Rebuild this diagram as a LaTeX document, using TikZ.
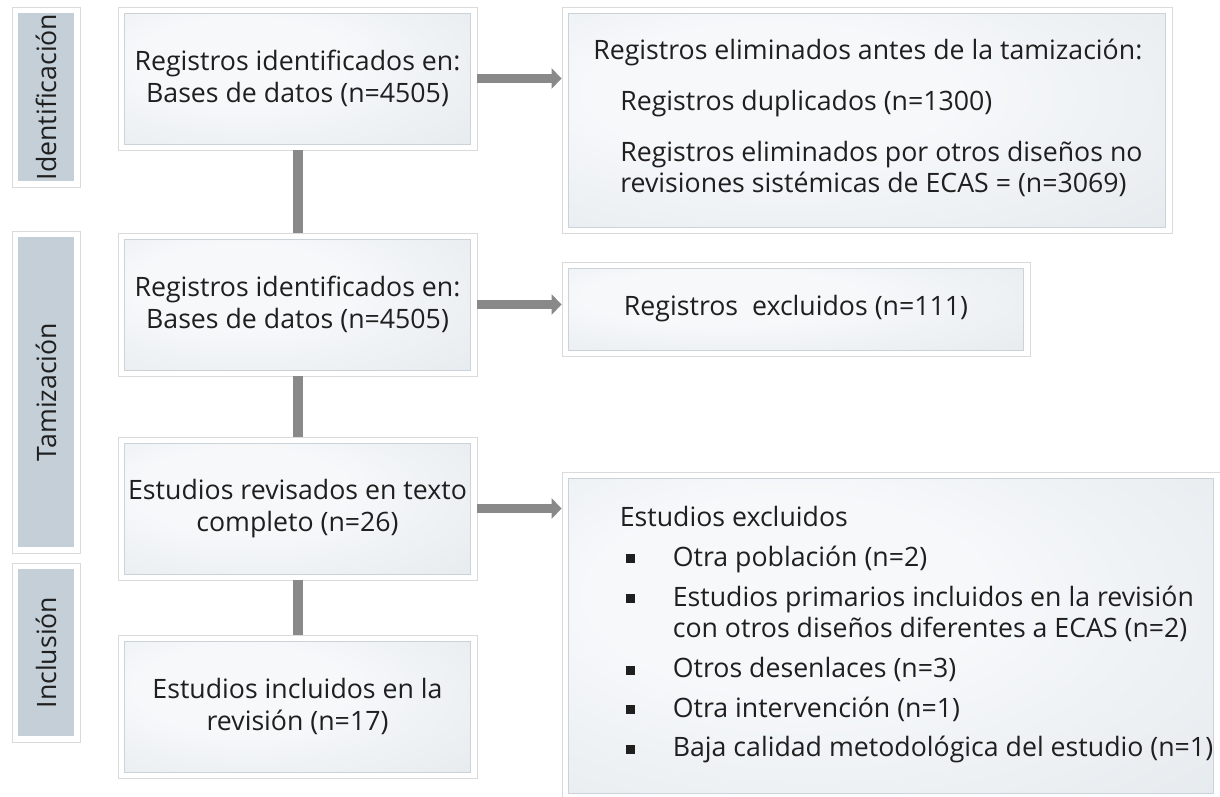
\documentclass[tikz,border=0pt]{standalone}
\usepackage{fontspec}
\setmainfont{Open Sans}
\usetikzlibrary{arrows.meta}

\definecolor{panellight}{HTML}{F6F8FA}
\definecolor{paneldark}{HTML}{D3DBE1}
\definecolor{phasegrey}{HTML}{C4CFD8}
\definecolor{linkgrey}{HTML}{898989}
\definecolor{framegrey}{HTML}{DADADA}
\definecolor{edgegrey}{HTML}{CBD2D8}

\pgfdeclareradialshading{panelshade}{\pgfpoint{-10bp}{8bp}}{%
  color(0bp)=(panellight); color(15bp)=(panellight); color(70bp)=(paneldark)}

\newcommand{\sqbullet}{\hspace*{6pt}\rule[3pt]{9pt}{9pt}}

\tikzset{
  boxfont/.style={font=\fontsize{26.7}{31.7}\selectfont, text=black!88},
  panel/.style={draw=framegrey, fill=white, line width=0.8pt, inner sep=0pt,
    align=center, boxfont,
    path picture={\shade[shading=panelshade, draw=edgegrey, line width=0.6pt]
      ([shift={(6.5pt,6pt)}]path picture bounding box.south west) rectangle
      ([shift={(-6.5pt,-6pt)}]path picture bounding box.north east);}},
  phase/.style={draw=framegrey, fill=white, line width=0.8pt, inner sep=0pt,
    minimum width=68pt, boxfont,
    path picture={\fill[phasegrey]
      ([shift={(6pt,6pt)}]path picture bounding box.south west) rectangle
      ([shift={(-6pt,-6pt)}]path picture bounding box.north east);}},
  link/.style={linkgrey, line width=10pt},
  flow/.style={linkgrey, line width=9pt, -{Triangle[width=20pt,length=10pt]}},
}

\begin{document}
\begin{tikzpicture}[x=1pt, y=-1pt]
  \useasboundingbox (0,0) rectangle (1220,796);
    % phases
    \node[phase, minimum height=180pt] (ident) at (46,97) {\rotatebox{90}{Identificación}};
    \node[phase, minimum height=322pt] (tamiz) at (46,392) {\rotatebox{90}{Tamización}};
    \node[phase, minimum height=179pt] (incl) at (46,652.5) {\rotatebox{90}{Inclusión}};
    % main column
    \node[panel, minimum width=359pt, minimum height=143pt] (found) at (297.5,78.5) {Registros identificados en:\\Bases de datos (n=4505)};
    \node[panel, minimum width=359pt, minimum height=143pt] (screened) at (297.5,304.5) {Registros identificados en:\\Bases de datos (n=4505)};
    \node[panel, minimum width=359pt, minimum height=143pt] (fulltext) at (297.5,508.5) {Estudios revisados en texto\\completo (n=26)};
    \node[panel, minimum width=359pt, minimum height=143pt] (included) at (297.5,706.5) {Estudios incluidos en la\\revisión (n=17)};
    % side column
    \node[panel, minimum width=610pt, minimum height=226pt] (removed) at (867,120) {};
    \node[panel, minimum width=468pt, minimum height=94pt] (dropped) at (796,309) {Registros\ \ excluidos (n=111)};
    \node[panel, minimum width=658pt, minimum height=327pt] (excluded) at (891,635.5) {};
    \node[boxfont, anchor=west, inner sep=0pt] (removedtxt) at ([xshift=31.5pt]removed.west) {%
      \begin{tabular}{@{}l@{}}
        Registros eliminados antes de la tamización:\\[19pt]
        \hspace*{27pt}Registros duplicados (n=1300)\\[19pt]
        \hspace*{27pt}Registros eliminados por otros diseños no\\
        \hspace*{27pt}revisiones sistémicas de ECAS = (n=3069)
      \end{tabular}};
    \node[boxfont, anchor=west, inner sep=0pt] (excludedtxt) at ([xshift=58pt]excluded.west) {%
      \begin{tabular}{@{}p{53pt}@{}l@{}}
        \multicolumn{2}{@{}l}{Estudios excluidos}\\[8pt]
        \sqbullet & Otra población (n=2)\\[8pt]
        \sqbullet & Estudios primarios incluidos en la revisión\\
                  & con otros diseños diferentes a ECAS (n=2)\\[8pt]
        \sqbullet & Otros desenlaces (n=3)\\[8pt]
        \sqbullet & Otra intervención (n=1)\\[8pt]
        \sqbullet & Baja calidad metodológica del estudio (n=1)
      \end{tabular}};
    % connectors
    \draw[link] (found) -- (screened);
    \draw[link] (screened) -- (fulltext);
    \draw[link] (fulltext) -- (included);
    \draw[flow] (found.east) -- (found.east -| removed.west);
    \draw[flow] (screened.east) -- (screened.east -| dropped.west);
    \draw[flow] (fulltext.east) -- (fulltext.east -| excluded.west);
\end{tikzpicture}
\end{document}
